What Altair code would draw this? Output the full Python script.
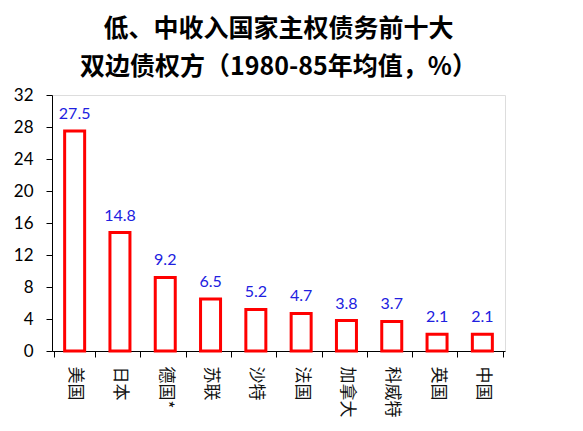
import altair as alt
import pandas as pd

countries = ["美国", "日本", "德国*", "苏联", "沙特", "法国", "加拿大", "科威特", "英国", "中国"]
values = [27.5, 14.8, 9.2, 6.5, 5.2, 4.7, 3.8, 3.7, 2.1, 2.1]
y_ticks = [0, 4, 8, 12, 16, 20, 24, 28, 32]
title_lines = ["低、中收入国家主权债务前十大", "双边债权方（1980-85年均值，%）"]

df = pd.DataFrame({"country": countries, "value": values})

x = alt.X("country:N", sort=None, title=None,
          axis=alt.Axis(labelAngle=90, labelAlign="left", labelBaseline="middle",
                        labelFont="Noto Sans CJK SC", labelFontSize=17, labelColor="#111",
                        labelPadding=9, tickBand="extent", tickSize=6, tickColor="black",
                        domainColor="black", ticks=True))
y = alt.Y("value:Q", title=None, scale=alt.Scale(domain=[0, 32], nice=False),
          axis=alt.Axis(values=y_ticks, grid=False, tickSize=6, tickColor="black",
                        domainColor="black", labelFont="Lato", labelFontSize=17,
                        labelColor="black", labelPadding=13, labelOverlap=False))

bars = alt.Chart(df).mark_bar(fill="white", stroke="#ff0000", strokeWidth=3, size=20).encode(x=x, y=y)
labels = alt.Chart(df).mark_text(baseline="bottom", dy=-9, font="Lato", fontSize=16,
                                 color="#2020e0").encode(
    x=x, y=y, text=alt.Text("value:Q", format=".1f"))

chart = (bars + labels).properties(
    width=453, height=256,
    title=alt.TitleParams(text=title_lines, font="Noto Sans CJK SC", fontSize=25,
                          fontWeight="bold", lineHeight=38, color="black",
                          anchor="middle", offset=6),
    autosize=alt.AutoSizeParams(type="none"),
    padding={"left": 44, "top": 87, "right": 70, "bottom": 72},
).configure_view(stroke=None).configure(background="white")

chart.save("out.html", embed_options={"renderer": "svg", "actions": False})
